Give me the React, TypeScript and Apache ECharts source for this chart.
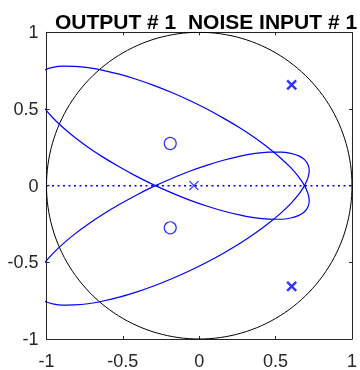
import React, { useEffect, useRef } from "react";
import * as echarts from "echarts";

const titleText = "OUTPUT # 1  NOISE INPUT # 1";
const tickValues = [-1, -0.5, 0, 0.5, 1];

// zeros (o) and poles (x) in the complex plane [re, im]
const zeros: number[][] = [
  [-0.19, 0.275],
  [-0.19, -0.275],
];
const doublePoles: number[][] = [
  [0.605, 0.657],
  [0.605, -0.657],
];
const singlePoles: number[][] = [[-0.035, 0]];

// blue curves [re, im]
const curveUpper: number[][] = [
  [-1.08, 0.658], [-1.072, 0.612], [-1.049, 0.56], [-1.012, 0.504], [-0.959, 0.443],
  [-0.894, 0.381], [-0.816, 0.316], [-0.728, 0.251], [-0.63, 0.186], [-0.524, 0.123],
  [-0.413, 0.062], [-0.298, 0.005], [-0.18, -0.047], [-0.063, -0.094], [0.053, -0.134],
  [0.164, -0.167], [0.27, -0.192], [0.368, -0.21], [0.456, -0.218], [0.534, -0.219],
  [0.599, -0.211], [0.652, -0.194], [0.689, -0.17], [0.712, -0.137], [0.72, -0.098],
  [0.712, -0.052], [0.689, 0.0], [0.652, 0.056], [0.599, 0.117], [0.534, 0.179],
  [0.456, 0.244], [0.368, 0.309], [0.27, 0.374], [0.164, 0.437], [0.053, 0.498],
  [-0.063, 0.555], [-0.18, 0.607], [-0.298, 0.654], [-0.413, 0.694], [-0.524, 0.727],
  [-0.63, 0.752], [-0.728, 0.77], [-0.816, 0.778], [-0.894, 0.779], [-0.959, 0.771],
  [-1.012, 0.754], [-1.049, 0.73], [-1.072, 0.697], [-1.08, 0.658],
];
const curveLower: number[][] = [
  [-1.08, -0.658], [-1.072, -0.612], [-1.049, -0.56], [-1.012, -0.504], [-0.959, -0.443],
  [-0.894, -0.381], [-0.816, -0.316], [-0.728, -0.251], [-0.63, -0.186], [-0.524, -0.123],
  [-0.413, -0.062], [-0.298, -0.005], [-0.18, 0.047], [-0.063, 0.094], [0.053, 0.134],
  [0.164, 0.167], [0.27, 0.192], [0.368, 0.21], [0.456, 0.218], [0.534, 0.219],
  [0.599, 0.211], [0.652, 0.194], [0.689, 0.17], [0.712, 0.137], [0.72, 0.098],
  [0.712, 0.052], [0.689, 0.0], [0.652, -0.056], [0.599, -0.117], [0.534, -0.179],
  [0.456, -0.244], [0.368, -0.309], [0.27, -0.374], [0.164, -0.437], [0.053, -0.498],
  [-0.063, -0.555], [-0.18, -0.607], [-0.298, -0.654], [-0.413, -0.694], [-0.524, -0.727],
  [-0.63, -0.752], [-0.728, -0.77], [-0.816, -0.778], [-0.894, -0.779], [-0.959, -0.771],
  [-1.012, -0.754], [-1.049, -0.73], [-1.072, -0.697], [-1.08, -0.658],
];
const realAxisLine: number[][] = [
  [-1, 0],
  [1, 0],
];

const BLUE = "#0000ff";
const AXIS = "#262626";
const FONT = "'Liberation Sans', Arial, Helvetica, sans-serif";

export default function App() {
  const ref = useRef<HTMLDivElement>(null);
  useEffect(() => {
    if (!ref.current) return;
    const chart = echarts.init(ref.current, undefined, { renderer: "svg" });

    const unitCircle: number[][] = [];
    for (let d = 0; d <= 360; d += 2) {
      const r = (d * Math.PI) / 180;
      unitCircle.push([Math.cos(r), Math.sin(r)]);
    }

    const axisCommon = {
      type: "value" as const,
      min: tickValues[0],
      max: tickValues[tickValues.length - 1],
      interval: 0.5,
      splitLine: { show: false },
      axisLine: { show: true, onZero: false, lineStyle: { color: AXIS, width: 1 } },
      axisTick: { show: true, inside: true, length: 3, lineStyle: { color: AXIS, width: 1 } },
    };

    chart.setOption({
      animation: false,
      title: {
        text: titleText,
        left: 201,
        top: 6,
        textAlign: "center",
        textStyle: { fontFamily: FONT, fontSize: 21, fontWeight: "bold", color: "#000" },
      },
      grid: { left: 46.5, top: 32.3, width: 308.5, height: 309.4 },
      xAxis: [
        {
          ...axisCommon,
          position: "bottom",
          axisLabel: { fontFamily: FONT, fontSize: 18, color: AXIS, margin: 13 },
        },
        { ...axisCommon, position: "top", axisLabel: { show: false } },
      ],
      yAxis: [
        {
          ...axisCommon,
          position: "left",
          axisLabel: { fontFamily: FONT, fontSize: 18, color: AXIS, margin: 8 },
        },
        { ...axisCommon, position: "right", axisLabel: { show: false } },
      ],
      series: [
        {
          type: "line",
          data: unitCircle,
          symbol: "none",
          lineStyle: { color: "#000", width: 1 },
          silent: true,
        },
        {
          type: "line",
          data: realAxisLine,
          symbol: "none",
          itemStyle: { color: BLUE },
          lineStyle: { color: BLUE, width: 1.5, type: [2, 3.5] },
          silent: true,
        },
        {
          type: "line",
          data: curveUpper,
          smooth: 0.3,
          symbol: "none",
          clip: true,
          lineStyle: { color: BLUE, width: 1.2 },
          silent: true,
        },
        {
          type: "line",
          data: curveLower,
          smooth: 0.3,
          symbol: "none",
          clip: true,
          lineStyle: { color: BLUE, width: 1.2 },
          silent: true,
        },
        {
          type: "scatter",
          data: zeros,
          symbol: "circle",
          symbolSize: 12,
          itemStyle: { color: "rgba(0,0,0,0)", borderColor: BLUE, borderWidth: 1.2 },
          silent: true,
        },
        {
          type: "scatter",
          data: doublePoles,
          symbol: "path://M0,0L10,10M0,10L10,0",
          symbolSize: 9,
          itemStyle: { color: "rgba(0,0,0,0)", borderColor: BLUE, borderWidth: 2.4 },
          silent: true,
        },
        {
          type: "scatter",
          data: singlePoles,
          symbol: "path://M0,0L10,10M0,10L10,0",
          symbolSize: 9,
          itemStyle: { color: "rgba(0,0,0,0)", borderColor: BLUE, borderWidth: 1.3 },
          silent: true,
        },
      ],
    });
    return () => chart.dispose();
  }, []);

  return (
    <div
      ref={ref}
      style={{ position: "fixed", left: 0, top: 0, width: 360, height: 370 }}
    />
  );
}
